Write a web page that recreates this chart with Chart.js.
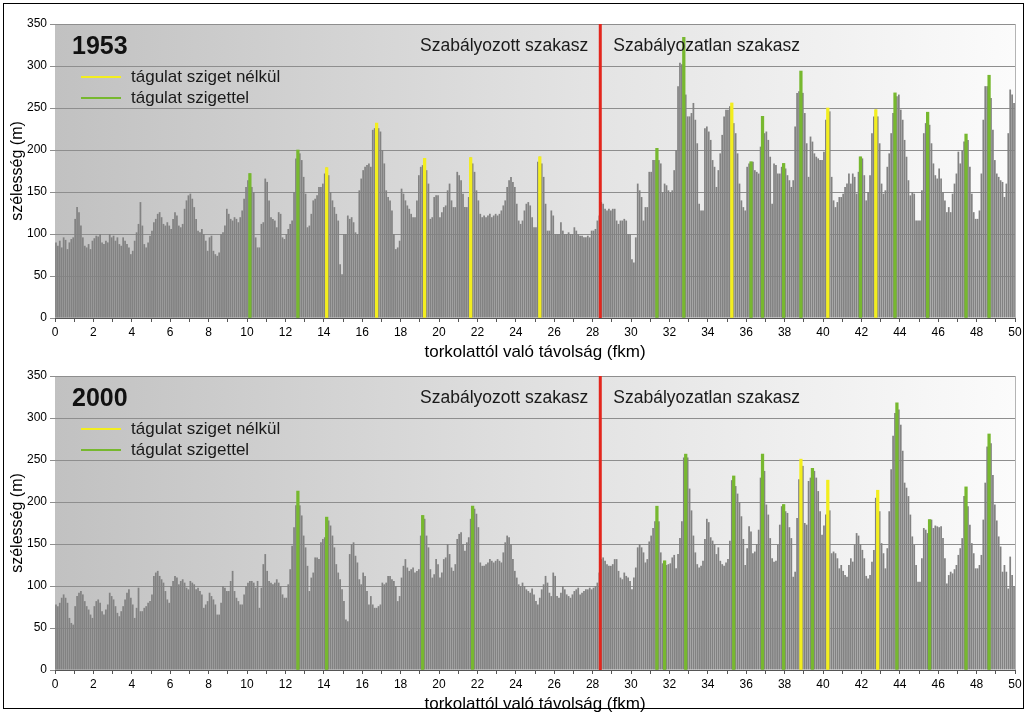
<!DOCTYPE html>
<html>
<head>
<meta charset="utf-8">
<script src="https://cdn.jsdelivr.net/npm/chart.js@4.4.0/dist/chart.umd.min.js"></script>
<style>
  html, body { margin: 0; padding: 0; background: #fff; width: 1028px; height: 712px; overflow: hidden; }
  #frame { position: absolute; left: 3px; top: 3px; width: 1021px; height: 706px; border: 1px solid #000; box-sizing: border-box; }
  canvas { position: absolute; left: 0; }
  #c1953 { top: 0; }
  #c2000 { top: 352px; }
</style>
</head>
<body>
<div id="frame"></div>
<canvas id="c1953" width="1028" height="364"></canvas>
<canvas id="c2000" width="1028" height="364"></canvas>
<script>
// Channel width (m) every 100 m of river, from the mouth (0 fkm) to 50 fkm.
const STEP_KM = 0.1;

const width1953 = [
  90, 86, 92, 84, 96, 93, 82, 90, 94, 96,          // 0 km
  118, 132, 126, 110, 96, 86, 84, 88, 82, 92,      // 1
  95, 98, 97, 100, 90, 88, 92, 90, 100, 96,        // 2
  98, 92, 96, 88, 86, 96, 92, 88, 84, 76,          // 3
  80, 92, 102, 112, 138, 110, 88, 84, 90, 98,      // 4
  104, 114, 118, 124, 126, 120, 112, 110, 114, 110,// 5
  106, 118, 126, 122, 110, 108, 112, 130, 140, 146,// 6
  148, 142, 132, 118, 104, 102, 106, 100, 92, 80,  // 7
  96, 98, 80, 76, 74, 78, 100, 102, 110, 130,      // 8
  124, 118, 116, 120, 118, 114, 120, 128, 142, 156,// 9
  164, 172, 156, 150, 96, 84, 84, 112, 114, 166,   // 10
  162, 140, 120, 118, 116, 108, 126, 124, 96, 94,  // 11
  100, 106, 112, 116, 150, 190, 200, 196, 188, 168,// 12
  148, 108, 110, 124, 140, 142, 146, 156, 156, 160,// 13
  172, 179, 170, 150, 140, 132, 124, 116, 64, 52,  // 14
  100, 100, 122, 118, 120, 114, 102, 100, 152, 166,// 15
  176, 180, 182, 184, 180, 224, 226, 232, 226, 222,// 16
  200, 184, 152, 144, 140, 128, 100, 82, 84, 92,   // 17
  154, 148, 140, 134, 130, 124, 120, 120, 140, 170,// 18
  180, 182, 190, 176, 160, 118, 120, 144, 146, 146,// 19
  120, 126, 132, 134, 152, 160, 140, 132, 132, 174,// 20
  170, 164, 148, 132, 132, 144, 191, 184, 174, 152,// 21
  140, 124, 120, 122, 120, 122, 124, 120, 122, 124,// 22
  122, 124, 128, 134, 140, 156, 164, 168, 162, 156,// 23
  136, 116, 112, 116, 128, 136, 138, 134, 120, 108,// 24
  108, 186, 192, 184, 168, 136, 104, 104, 128, 122,// 25
  100, 100, 100, 114, 104, 100, 100, 102, 100, 100,// 26
  108, 104, 100, 98, 98, 96, 96, 98, 96, 104,      // 27
  104, 106, 116, 122, 138, 136, 130, 128, 130, 128,// 28
  130, 130, 116, 112, 116, 116, 118, 116, 100, 100,// 29
  70, 66, 96, 160, 152, 144, 116, 132, 132, 174,   // 30
  174, 188, 188, 202, 188, 184, 150, 160, 158, 152,// 31
  150, 152, 176, 200, 276, 304, 302, 334, 266, 240,// 32
  240, 244, 256, 236, 208, 136, 128, 128, 226, 228,// 33
  222, 212, 188, 180, 156, 176, 196, 218, 240, 248,// 34
  248, 252, 256, 232, 220, 196, 160, 140, 132, 128,// 35
  180, 184, 186, 186, 176, 174, 172, 204, 240, 220,// 36
  222, 212, 192, 136, 184, 182, 172, 172, 180, 184,// 37
  178, 170, 164, 156, 164, 228, 268, 270, 294, 268,// 38
  244, 208, 168, 216, 210, 196, 192, 190, 188, 188,// 39
  198, 236, 250, 246, 168, 140, 132, 138, 144, 144,// 40
  148, 156, 160, 172, 160, 172, 168, 148, 174, 192,// 41
  190, 170, 140, 150, 170, 220, 240, 248, 240, 208,// 42
  160, 148, 152, 180, 196, 220, 244, 268, 264, 266,// 43
  248, 236, 212, 192, 164, 146, 150, 148, 116, 116,// 44
  116, 152, 220, 232, 245, 230, 208, 184, 170, 166,// 45
  178, 166, 150, 140, 126, 132, 126, 148, 160, 172,// 46
  198, 184, 200, 210, 219, 212, 180, 148, 126, 118,// 47
  118, 128, 172, 236, 276, 276, 289, 262, 224, 188,// 48
  172, 168, 164, 162, 144, 160, 220, 272, 266, 256 // 49
];

const width2000 = [
  78, 76, 80, 86, 90, 86, 80, 62, 56, 54,          // 0 km
  76, 88, 92, 94, 90, 82, 76, 72, 66, 62,          // 1
  76, 82, 84, 80, 70, 66, 72, 78, 92, 88,          // 2
  84, 76, 68, 64, 70, 76, 84, 92, 96, 86,          // 3
  78, 62, 74, 98, 70, 70, 74, 76, 80, 82,          // 4
  90, 112, 116, 118, 112, 108, 104, 94, 84, 80,    // 5
  100, 106, 112, 110, 102, 106, 108, 104, 98, 96,  // 6
  106, 104, 102, 96, 98, 94, 90, 74, 78, 82,       // 7
  92, 88, 84, 78, 66, 66, 80, 100, 98, 94,         // 8
  94, 106, 118, 94, 86, 82, 78, 78, 90, 100,       // 9
  104, 106, 106, 104, 98, 106, 74, 98, 126, 138,   // 10
  118, 106, 104, 102, 104, 108, 104, 100, 90, 86,  // 11
  86, 102, 120, 148, 170, 196, 213, 196, 184, 160, // 12
  146, 124, 94, 110, 116, 134, 134, 132, 152, 156, // 13
  158, 182, 178, 172, 160, 146, 126, 116, 108, 96, // 14
  82, 60, 58, 138, 150, 152, 136, 128, 108, 102,   // 15
  116, 112, 94, 78, 88, 78, 74, 74, 76, 78,        // 16
  104, 102, 104, 112, 112, 108, 106, 100, 82, 88,  // 17
  110, 124, 132, 122, 118, 120, 122, 116, 118, 120,// 18
  160, 184, 180, 160, 146, 120, 110, 114, 132, 126,// 19
  110, 116, 132, 134, 150, 138, 122, 118, 126, 156,// 20
  162, 164, 150, 142, 152, 158, 180, 195, 192, 186,// 21
  170, 128, 124, 124, 126, 128, 132, 130, 128, 130,// 22
  132, 130, 128, 140, 152, 160, 158, 150, 132, 118,// 23
  110, 102, 100, 104, 100, 96, 94, 92, 97, 90,     // 24
  82, 78, 86, 96, 102, 112, 104, 92, 88, 116,      // 25
  112, 88, 86, 92, 100, 96, 90, 88, 86, 90,        // 26
  94, 96, 98, 90, 92, 94, 96, 96, 98, 96,          // 27
  98, 100, 104, 116, 132, 134, 130, 126, 124, 124, // 28
  126, 132, 132, 118, 110, 108, 116, 112, 110, 106,// 29
  96, 110, 122, 146, 150, 146, 140, 128, 132, 153, // 30
  160, 169, 177, 195, 177, 140, 127, 130, 125, 126,// 31
  127, 134, 137, 121, 138, 157, 177, 253, 257, 253,// 32
  216, 190, 160, 140, 126, 122, 124, 130, 156, 180,// 33
  176, 158, 154, 150, 138, 146, 130, 126, 124, 128,// 34
  132, 154, 226, 231, 219, 210, 200, 183, 156, 125,// 35
  145, 171, 165, 139, 141, 150, 167, 229, 257, 237,// 36
  197, 185, 157, 133, 129, 130, 149, 173, 195, 197,// 37
  189, 187, 170, 157, 111, 117, 181, 227, 251, 243,// 38
  175, 173, 225, 229, 240, 237, 229, 213, 189, 161,// 39
  172, 185, 226, 190, 139, 141, 139, 133, 121, 125,// 40
  118, 113, 111, 125, 133, 129, 149, 163, 160, 150,// 41
  143, 133, 112, 109, 113, 129, 143, 205, 214, 189,// 42
  151, 139, 121, 145, 189, 239, 279, 306, 318, 310,// 43
  292, 261, 223, 217, 207, 185, 159, 149, 125, 105,// 44
  105, 133, 169, 167, 163, 179, 179, 169, 172, 171,// 45
  170, 171, 157, 133, 103, 113, 117, 115, 120, 125,// 46
  137, 145, 157, 207, 218, 195, 173, 151, 139, 121,// 47
  121, 125, 137, 179, 223, 266, 281, 270, 232, 197,// 48
  178, 159, 147, 117, 125, 117, 97, 135, 113, 100  // 49
];

// Start (fkm) of the 100 m sections marked as widenings.
const yellow1953 = [14.1, 16.7, 19.2, 21.6, 25.2, 35.2, 40.2, 42.7];            // without island
const green1953  = [10.1, 12.6, 31.3, 32.7, 36.2, 36.8, 37.9, 38.8, 41.9, 43.7, 45.4, 47.4, 48.6]; // with island
const yellow2000 = [38.8, 40.2, 42.8];
const green2000  = [12.6, 14.1, 19.1, 21.7, 31.3, 31.7, 32.8, 35.3, 36.8, 37.9, 39.4, 43.8, 45.5, 47.4, 48.6];

const boundaryKm = 28.4;   // end of the regulated reach
const sectionLabels = ['Szabályozott szakasz', 'Szabályozatlan szakasz'];
const legendLabels = ['tágulat sziget nélkül', 'tágulat szigettel'];
const xTitle = 'torkolattól való távolság (fkm)';
const yTitle = 'szélesség (m)';

const FONT = "'Liberation Sans', Arial, sans-serif";
const COLORS = { bar: '#828282', yellow: '#f3ee1e', green: '#77b82f', red: '#e3261d' };

function barPoints(values) {
  return values.map((v, i) => ({ x: (i + 0.5) * STEP_KM, y: v }));
}
function markedPoints(values, starts) {
  return starts.map(k => {
    const i = Math.round(k / STEP_KM);
    return { x: (i + 0.5) * STEP_KM, y: values[i] };
  });
}

const decor = {
  id: 'decor',
  beforeDraw(chart) {
    const { ctx, chartArea: a } = chart;
    const g = ctx.createLinearGradient(a.left, 0, a.right, 0);
    g.addColorStop(0, '#c1c1c1');
    g.addColorStop(0.55, '#e3e3e3');
    g.addColorStop(1, '#fbfbfb');
    ctx.save();
    ctx.fillStyle = g;
    ctx.fillRect(a.left, a.top, a.right - a.left, a.bottom - a.top);
    ctx.restore();
  },
  afterDatasetsDraw(chart) {
    const { ctx, chartArea: a, scales } = chart;
    ctx.save();
    // right edge of the plot frame
    ctx.strokeStyle = '#b4b4b4';
    ctx.lineWidth = 1;
    ctx.beginPath();
    ctx.moveTo(a.right + 0.5, a.top);
    ctx.lineTo(a.right + 0.5, a.bottom);
    ctx.stroke();
    // boundary between regulated and unregulated reach
    const xb = scales.x.getPixelForValue(boundaryKm);
    ctx.strokeStyle = COLORS.red;
    ctx.lineWidth = 3;
    ctx.beginPath();
    ctx.moveTo(xb, a.top);
    ctx.lineTo(xb, a.bottom);
    ctx.stroke();
    ctx.restore();
  },
  afterDraw(chart, args, opts) {
    const { ctx, chartArea: a, scales } = chart;
    const xb = scales.x.getPixelForValue(boundaryKm);
    ctx.save();
    ctx.textBaseline = 'middle';
    ctx.fillStyle = '#111';
    ctx.font = 'bold 25px ' + FONT;
    ctx.textAlign = 'left';
    ctx.fillText(opts.year, a.left + 17, a.top + 23);

    ctx.font = '17.5px ' + FONT;
    ctx.fillStyle = '#1a1a1a';
    ctx.textAlign = 'right';
    ctx.fillText(sectionLabels[0], xb - 12, a.top + 22);
    ctx.textAlign = 'left';
    ctx.fillText(sectionLabels[1], xb + 13, a.top + 22);

    // legend
    const rows = [[COLORS.yellow, legendLabels[0], a.top + 53], [COLORS.green, legendLabels[1], a.top + 74]];
    ctx.font = '17px ' + FONT;
    rows.forEach(([c, t, y]) => {
      ctx.strokeStyle = c;
      ctx.lineWidth = 2;
      ctx.beginPath();
      ctx.moveTo(a.left + 26, y);
      ctx.lineTo(a.left + 66, y);
      ctx.stroke();
      ctx.fillStyle = '#1a1a1a';
      ctx.fillText(t, a.left + 76, y);
    });
    ctx.restore();
  }
};

function makeChart(id, year, values, yellow, green) {
  return new Chart(document.getElementById(id), {
    type: 'bar',
    data: {
      datasets: [
        { label: legendLabels[0], data: markedPoints(values, yellow), backgroundColor: COLORS.yellow,
          barThickness: 2.6, grouped: false, order: 0 },
        { label: legendLabels[1], data: markedPoints(values, green), backgroundColor: COLORS.green,
          barThickness: 2.6, grouped: false, order: 1 },
        { label: yTitle, data: barPoints(values), backgroundColor: COLORS.bar,
          barPercentage: 0.9, categoryPercentage: 1, grouped: false, order: 2 }
      ]
    },
    options: {
      responsive: false,
      animation: false,
      devicePixelRatio: 1,
      layout: { padding: { left: 0, right: 13, top: 24, bottom: 0 } },
      plugins: {
        legend: { display: false },
        tooltip: { enabled: false },
        decor: { year: year }
      },
      scales: {
        x: {
          type: 'linear', min: 0, max: 50, offset: false,
          afterFit(s) { s.height = 46; },
          ticks: {
            stepSize: 1, autoSkip: false, maxRotation: 0, padding: 3, color: '#000',
            font: { family: FONT, size: 12 },
            callback: v => (v % 2 === 0 ? String(v) : '')
          },
          grid: { drawOnChartArea: false, drawTicks: true, tickLength: 4, color: '#555', offset: false },
          border: { display: true, color: '#555', width: 1 },
          title: { display: true, text: xTitle, color: '#000', font: { family: FONT, size: 17 },
                   padding: { top: 0, bottom: 1 } }
        },
        y: {
          min: 0, max: 350,
          afterFit(s) { s.width = 55; },
          ticks: { stepSize: 50, color: '#000', padding: 3, font: { family: FONT, size: 12 } },
          grid: { color: '#8e8e8e', drawTicks: true, tickLength: 5 },
          border: { display: false },
          title: { display: true, text: yTitle, color: '#000', font: { family: FONT, size: 16 },
                   padding: { top: 8, bottom: 0 } }
        }
      }
    },
    plugins: [decor]
  });
}

makeChart('c1953', '1953', width1953, yellow1953, green1953);
makeChart('c2000', '2000', width2000, yellow2000, green2000);
</script>
</body>
</html>
